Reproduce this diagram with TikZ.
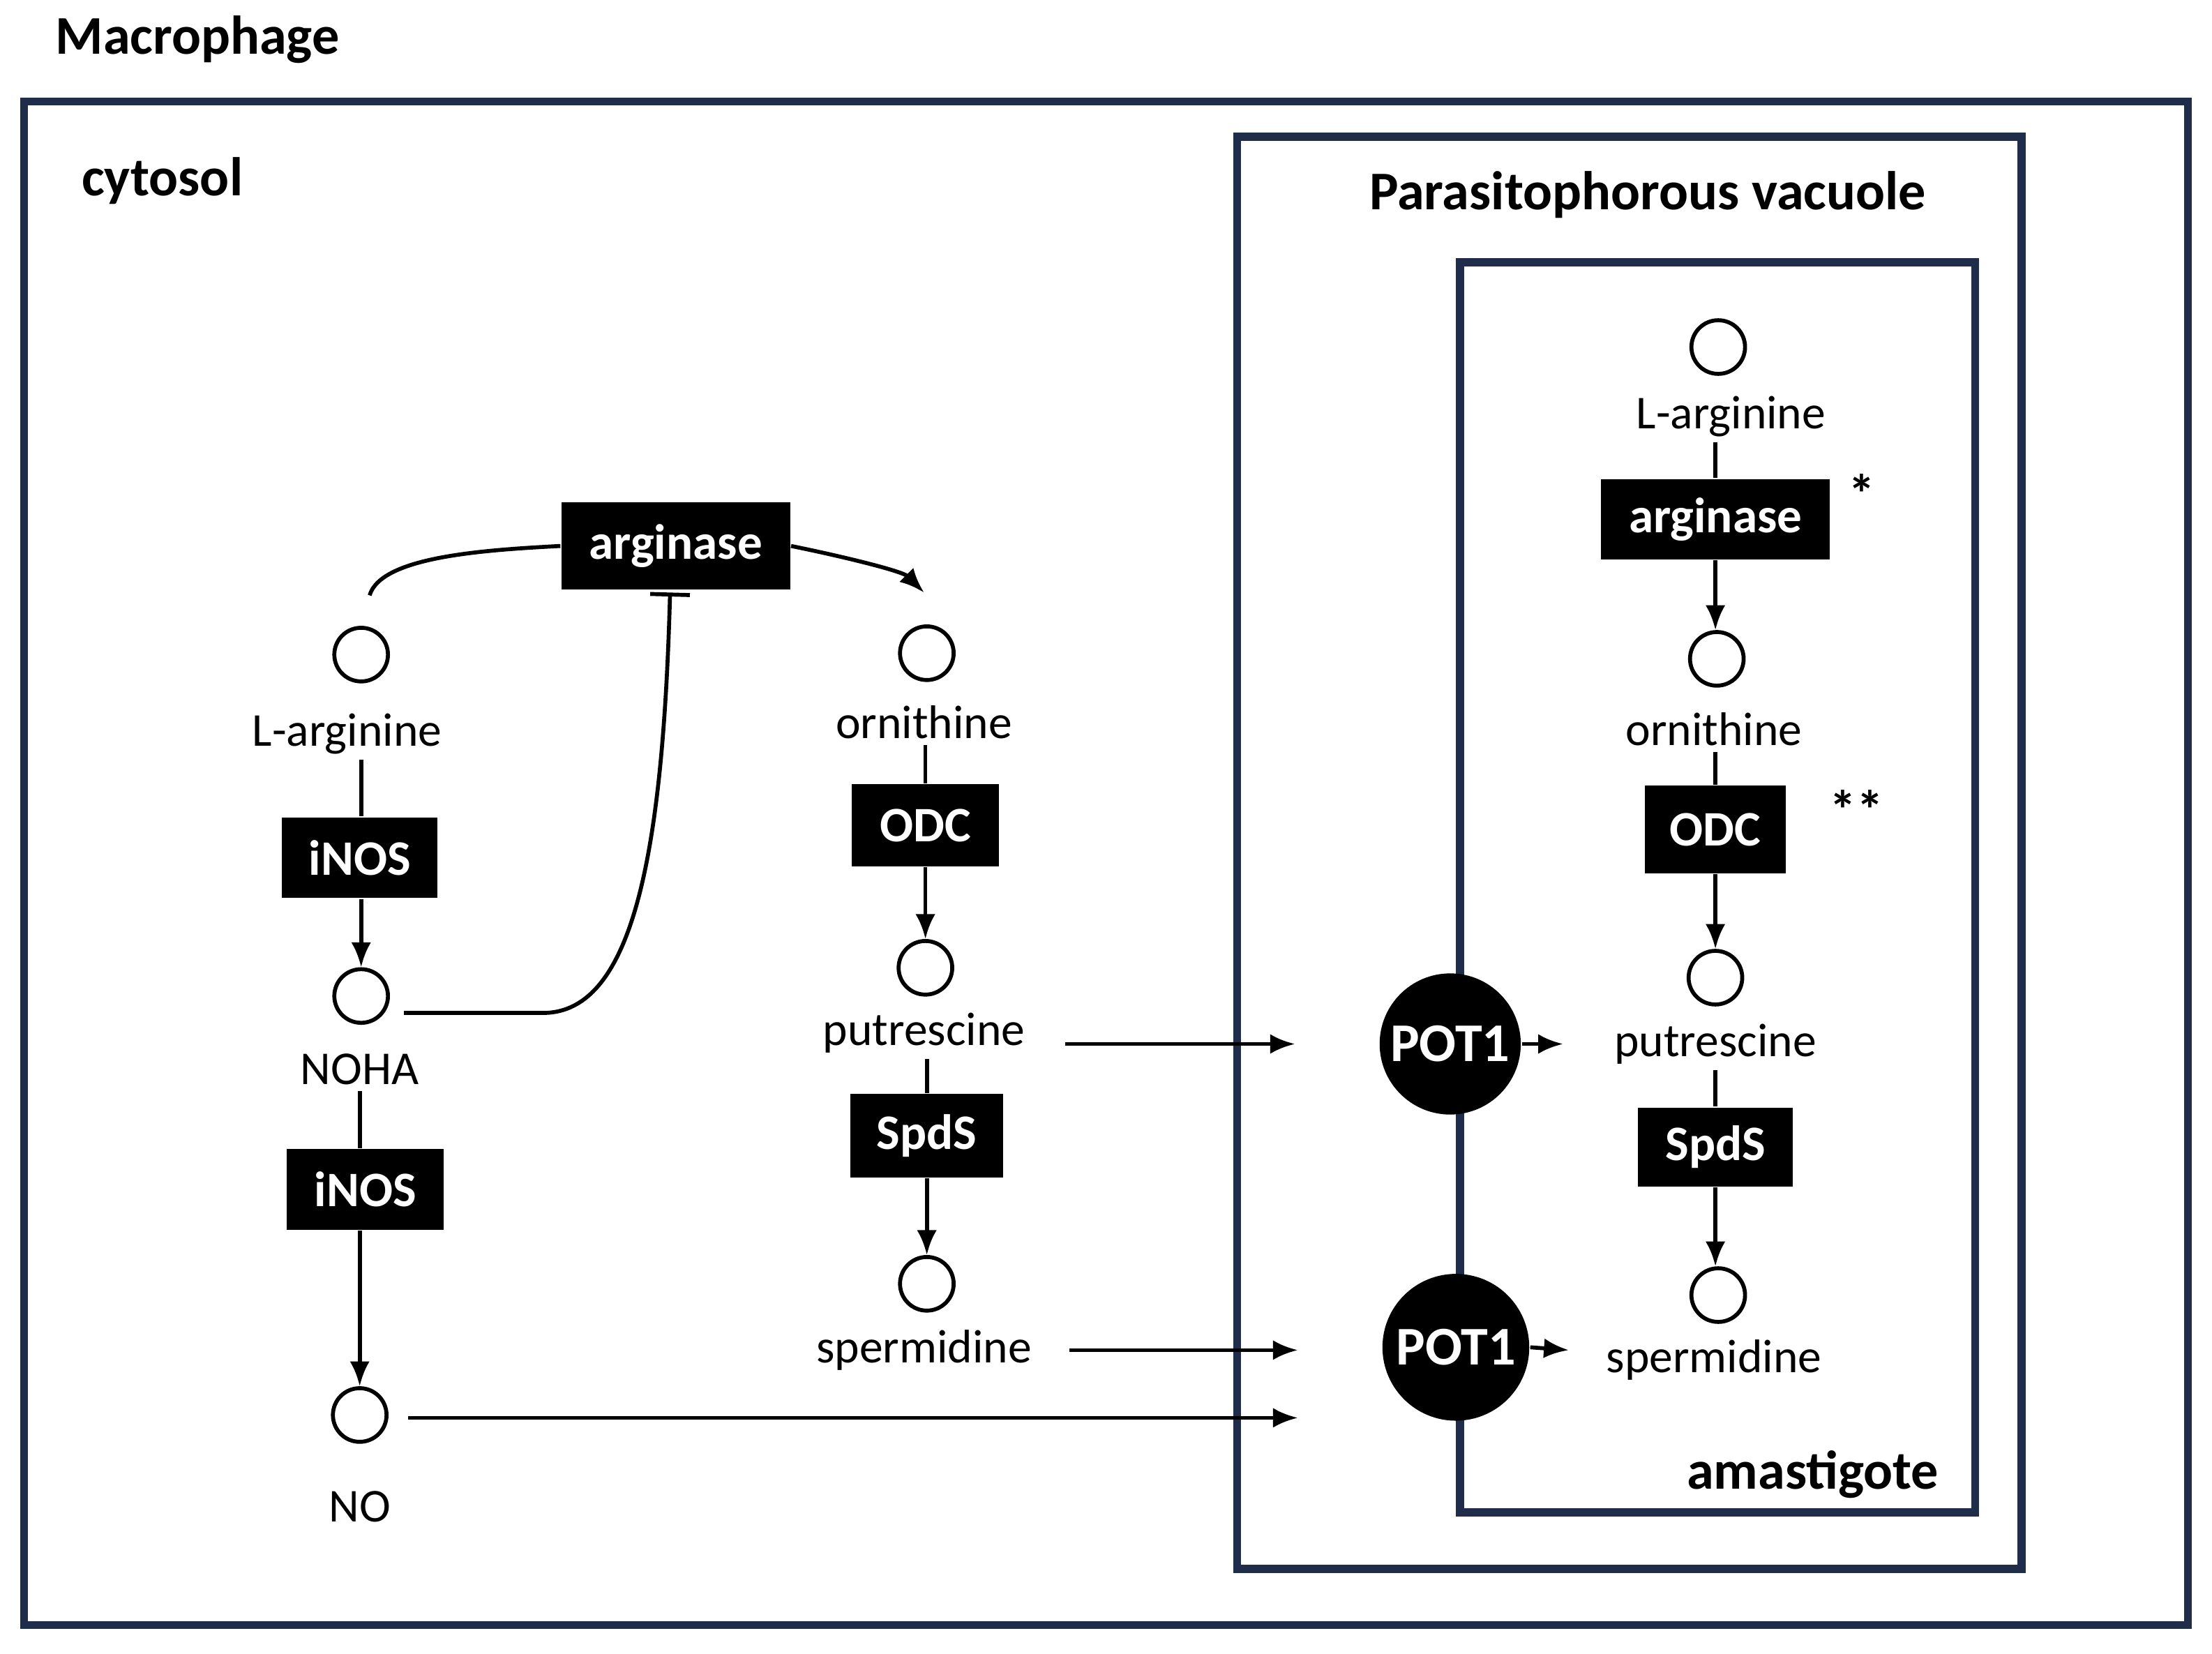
\documentclass[tikz,border=0pt]{standalone}
\usepackage{fontspec}
\setmainfont{Carlito}
\usetikzlibrary{arrows.meta}
\definecolor{frame}{HTML}{1F2D4A}
\tikzset{
  met/.style={circle,draw,line width=0.8pt,minimum size=0.38cm,inner sep=0pt},
  lab/.style={inner sep=1pt,font=\fontsize{9.5}{11}\selectfont},
  enz/.style={fill=black,text=white,inner sep=0pt,font=\bfseries\fontsize{10}{12}\selectfont},
  pot/.style={circle,fill=black,text=white,inner sep=0pt,font=\bfseries\fontsize{11}{12}\selectfont},
  title/.style={font=\bfseries\fontsize{11}{13}\selectfont},
  box/.style={draw=frame,line width=1.6pt},
  rxn/.style={line width=0.8pt,-{Latex[length=5pt,width=4pt]}},
}
\begin{document}
\begin{tikzpicture}[x=0.01cm,y=-0.01cm]
  \useasboundingbox (0,0) rectangle (1568,1172);
  % compartments
  \node[title] at (140,28) {Macrophage};
  \draw[box] (17,72) rectangle (1551,1152);
  \node[title] at (115,128) {cytosol};
  \draw[box] (877,97) rectangle (1433,1112);
  \node[title] at (1168,138) {Parasitophorous vacuole};
  \draw[box] (1035,186) rectangle (1400,1072);
  \node[title] at (1285,1045) {amastigote};

  % macrophage: iNOS branch
  \node[met] (larg) at (256,464) {};
  \node[lab] (largL) at (246,520) {L-arginine};
  \node[enz,minimum width=1.1cm,minimum height=0.57cm] (inos1) at (255,608) {iNOS};
  \node[met] (noha) at (256,706) {};
  \node[lab] (nohaL) at (255,758) {NOHA};
  \node[enz,minimum width=1.11cm,minimum height=0.57cm] (inos2) at (259,843) {iNOS};
  \node[met] (no) at (255,1003) {};
  \node[lab] (noL) at (255,1068) {NO};
  \draw[line width=0.8pt] (noha.north |- largL.south) -- (noha.north |- inos1.north);
  \draw[rxn] (noha.north |- inos1.south) -- (noha.north);
  \draw[line width=0.8pt] (no.north |- nohaL.south) -- (no.north |- inos2.north);
  \draw[rxn] (no.north |- inos2.south) -- (no.north);

  % macrophage: arginase branch
  \node[enz,minimum width=1.62cm,minimum height=0.62cm] (arg1) at (479,387) {arginase};
  \node[met] (orn) at (657,463) {};
  \node[lab] (ornL) at (655,512) {ornithine};
  \node[enz,minimum width=1.04cm,minimum height=0.58cm] (odc1) at (656,585) {ODC};
  \node[met] (put) at (656,686) {};
  \node[lab] (putL) at (655,732) {putrescine};
  \node[enz,minimum width=1.08cm,minimum height=0.59cm] (spds1) at (657,805) {SpdS};
  \node[met] (spd) at (657,910) {};
  \node[lab] (spdL) at (655,957) {spermidine};
  \draw[line width=0.8pt] (262,422) .. controls (270,395) and (340,390) .. (arg1.west);
  \draw[rxn] (arg1.east) .. controls (600,395) and (640,405) .. (655,420);
  \draw[line width=0.8pt,-{Bar[width=8pt]}] (noha.east) ++(10,12) -- (385,718)
    .. controls (450,718) and (470,600) .. (475,420);
  \draw[line width=0.8pt] (put.north |- ornL.south) -- (put.north |- odc1.north);
  \draw[rxn] (put.north |- odc1.south) -- (put.north);
  \draw[line width=0.8pt] (spd.north |- putL.south) -- (spd.north |- spds1.north);
  \draw[rxn] (spd.north |- spds1.south) -- (spd.north);

  % transport
  \node[pot,minimum size=1.0cm] (pot1) at (1028,740) {POT1};
  \node[pot,minimum size=1.04cm] (pot2) at (1032,955) {POT1};
  \coordinate (nodest) at (920,1005);
  \draw[rxn] (755,740) -- (918,740);
  \draw[rxn] (758,957) -- (920,957);
  \draw[rxn] (no.east) ++(14,2) -- (nodest);

  % amastigote pathway
  \node[met] (arga) at (1218,246) {};
  \node[lab] (argaL) at (1227,295) {L-arginine};
  \node[enz,minimum width=1.62cm,minimum height=0.57cm] (arg2) at (1216,368) {arginase};
  \node[lab,font=\bfseries\fontsize{11}{12}\selectfont] at (1320,350) {*};
  \node[met] (orna) at (1217,467) {};
  \node[lab] (ornaL) at (1215,517) {ornithine};
  \node[enz,minimum width=1.0cm,minimum height=0.62cm] (odc2) at (1216,588) {ODC};
  \node[lab,font=\bfseries\fontsize{11}{12}\selectfont] at (1316,574) {**};
  \node[met] (puta) at (1216,693) {};
  \node[lab] (putaL) at (1216,740) {putrescine};
  \node[enz,minimum width=1.1cm,minimum height=0.56cm] (spds2) at (1216,813) {SpdS};
  \node[met] (spda) at (1218,918) {};
  \node[lab] (spdaL) at (1215,964) {spermidine};
  \draw[line width=0.8pt] (arg2.north |- argaL.south) -- (arg2.north);
  \draw[rxn] (arg2.south) -- (arg2.south |- orna.north);
  \draw[line width=0.8pt] (odc2.north |- ornaL.south) -- (odc2.north);
  \draw[rxn] (odc2.south) -- (odc2.south |- puta.north);
  \draw[line width=0.8pt] (spds2.north |- putaL.south) -- (spds2.north);
  \draw[rxn] (spds2.south) -- (spds2.south |- spda.north);
  \draw[rxn] (pot1.east) -- (1108,740);
  \draw[rxn] (pot2.east) -- (1112,957);
\end{tikzpicture}
\end{document}
